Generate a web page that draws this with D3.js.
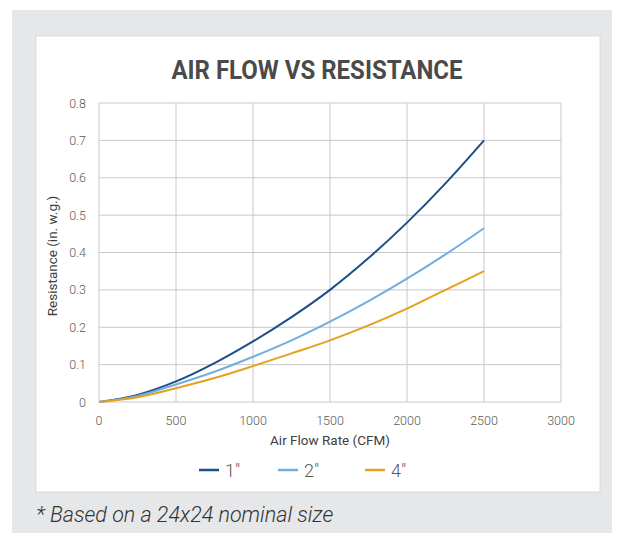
<!DOCTYPE html>
<html>
<head>
<meta charset="utf-8">
<script src="https://cdn.jsdelivr.net/npm/d3@7"></script>
<style>
body { margin: 0; background: #fff; }
text { font-family: Roboto, "Noto Sans", sans-serif; }
</style>
</head>
<body>
<div id="drawing"></div>
<script>
"use strict"

/**** data ****/
let flowRates = [0, 250, 500, 750, 1000, 1250, 1500, 1750, 2000, 2250, 2500]
let seriesNames = ['1"', '2"', '4"']
let resist1 = [0, 0.019, 0.055, 0.104, 0.162, 0.227, 0.30, 0.385, 0.48, 0.585, 0.70]
let resist2 = [0, 0.016, 0.047, 0.081, 0.121, 0.165, 0.215, 0.27, 0.33, 0.395, 0.465]
let resist4 = [0, 0.013, 0.037, 0.064, 0.096, 0.13, 0.165, 0.205, 0.25, 0.30, 0.35]
let xTicks = [0, 500, 1000, 1500, 2000, 2500, 3000]
let yTicks = [0, 0.1, 0.2, 0.3, 0.4, 0.5, 0.6, 0.7, 0.8]

let colors = ["#1b4f88", "#72addf", "#e4a11b"]
let allSeries = [resist1, resist2, resist4].map((vals, i) => ({
    name: seriesNames[i],
    color: colors[i],
    points: vals.map((v, j) => ({x: flowRates[j], y: v}))
}))

/**** canvas ****/
let svgWidth = 624
let svgHeight = 533

let svg = d3.select("#drawing")
.append("svg")
.attr("width", svgWidth)
.attr("height", svgHeight)

// grey outer panel
svg.append("rect")
.attr("x", 12).attr("y", 10)
.attr("width", 600).attr("height", 523)
.attr("fill", "#e6e7e8")

// white card
svg.append("rect")
.attr("x", 36).attr("y", 36)
.attr("width", 564).attr("height", 456)
.attr("fill", "#ffffff")
.attr("stroke", "#d4d4d4")
.attr("stroke-width", 0.8)

/**** scales ****/
let xScale = d3.scaleLinear().domain([0, 3000]).range([99, 561])
let yScale = d3.scaleLinear().domain([0, 0.8]).range([402, 103])

/**** grid ****/
svg.selectAll("line.hgrid")
.data(yTicks)
.join("line")
.attr("class", "hgrid")
.attr("x1", xScale(0)).attr("x2", xScale(3000))
.attr("y1", d => yScale(d)).attr("y2", d => yScale(d))
.attr("stroke", "#c8c8c8")
.attr("stroke-width", 1)

svg.selectAll("line.vgrid")
.data(xTicks)
.join("line")
.attr("class", "vgrid")
.attr("x1", d => xScale(d)).attr("x2", d => xScale(d))
.attr("y1", yScale(0)).attr("y2", yScale(0.8))
.attr("stroke", "#c8c8c8")
.attr("stroke-width", 1)

/**** tick labels ****/
svg.selectAll("text.ytick")
.data(yTicks)
.join("text")
.attr("class", "ytick")
.attr("x", 86)
.attr("y", d => yScale(d) + 4.5)
.attr("text-anchor", "end")
.attr("font-size", 12.5)
.attr("font-weight", 300)
.attr("fill", "#595959")
.text(d => +d.toFixed(1))

svg.selectAll("text.xtick")
.data(xTicks)
.join("text")
.attr("class", "xtick")
.attr("x", d => xScale(d))
.attr("y", 425)
.attr("text-anchor", "middle")
.attr("font-size", 12.5)
.attr("font-weight", 300)
.attr("fill", "#595959")
.text(d => d)

/**** lines ****/
let line = d3.line()
.x(d => xScale(d.x))
.y(d => yScale(d.y))
.curve(d3.curveMonotoneX)

svg.selectAll("path.series")
.data(allSeries)
.join("path")
.attr("class", "series")
.attr("d", d => line(d.points))
.attr("fill", "none")
.attr("stroke", d => d.color)
.attr("stroke-width", 2)

/**** titles ****/
svg.append("text")
.attr("x", 317)
.attr("y", 79.5)
.attr("text-anchor", "middle")
.attr("font-size", 25)
.attr("font-weight", "bold")
.attr("fill", "#4a4a4a")
.attr("transform", "translate(317,0) scale(0.96,1) translate(-317,0)")
.text("AIR FLOW VS RESISTANCE")

svg.append("text")
.attr("x", 330)
.attr("y", 445)
.attr("text-anchor", "middle")
.attr("font-size", 13.5)
.attr("fill", "#404040")
.text("Air Flow Rate (CFM)")

svg.append("text")
.attr("transform", "rotate(-90)")
.attr("x", -256)
.attr("y", 57)
.attr("text-anchor", "middle")
.attr("font-size", 13.5)
.attr("fill", "#404040")
.text("Resistance (in. w.g.)")

/**** legend ****/
let legendX = [199, 278, 365]
let legend = svg.selectAll("g.legend")
.data(allSeries)
.join("g")
.attr("class", "legend")
.attr("transform", (d, i) => `translate(${legendX[i]},470)`)

legend.append("line")
.attr("x1", 0).attr("x2", 20)
.attr("y1", 0).attr("y2", 0)
.attr("stroke", d => d.color)
.attr("stroke-width", 2.5)

legend.append("text")
.attr("x", 26)
.attr("y", 6.5)
.attr("font-size", 18)
.attr("font-weight", 300)
.attr("fill", "#595959")
.text(d => d.name)

/**** footnote ****/
svg.append("text")
.attr("x", 36)
.attr("y", 522)
.attr("font-size", 21.5)
.attr("font-style", "italic")
.attr("font-weight", 300)
.attr("fill", "#333333")
.text("* Based on a 24x24 nominal size")
</script>
</body>
</html>
